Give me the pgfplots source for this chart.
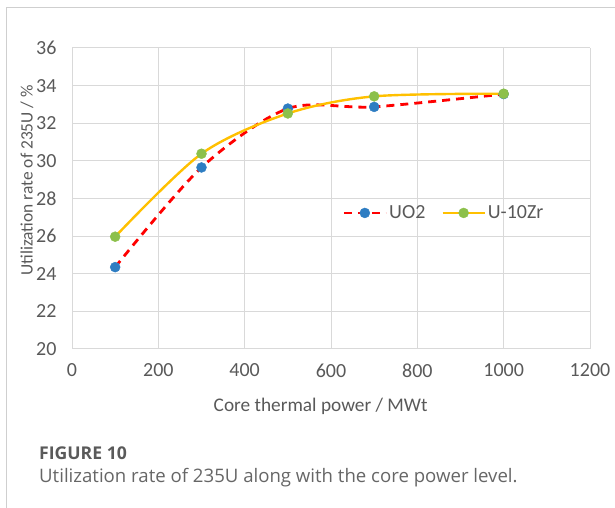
\documentclass[border=0pt]{standalone}
\usepackage{fontspec}
\setmainfont{Carlito}
\newfontfamily\capfont{Open Sans}
\usepackage{pgfplots}
\pgfplotsset{compat=1.18}

\definecolor{tickgray}{HTML}{595959}
\definecolor{gridgray}{HTML}{D9D9D9}
\definecolor{uoblue}{HTML}{2E7DC2}
\definecolor{zrgreen}{HTML}{8CC04B}
\definecolor{zryellow}{HTML}{FFC000}
\definecolor{framegray}{HTML}{CFCFCF}
\definecolor{capgray}{HTML}{5A5A5A}
\definecolor{captext}{HTML}{666666}

\begin{document}
\begin{tikzpicture}
\useasboundingbox (0,0) rectangle (615pt,508pt);
\draw[framegray, line width=1pt] (6pt,0pt) -- (6pt,500pt) -- (615pt,500pt);
\begin{axis}[
    at={(72pt,159pt)}, anchor=south west,
    scale only axis,
    width=518pt, height=301pt,
    xmin=0, xmax=1200,
    ymin=20, ymax=36,
    xtick={0,200,...,1200},
    ytick={20,22,...,36},
    grid=major,
    grid style={gridgray, line width=1pt},
    axis line style={draw=none},
    major tick length=0pt,
    /pgf/number format/1000 sep={},
    /pgf/number format/assume math mode=true,
    tick label style={font=\fontsize{20}{24}\selectfont, text=tickgray},
    yticklabel style={xshift=-12pt},
    xticklabel style={yshift=-11pt},
    xlabel={Core thermal power / MWt},
    ylabel={Utilization rate of 235U / \%},
    label style={text=tickgray},
    xlabel style={font=\fontsize{19.3}{23}\selectfont,
        at={(rel axis cs:0.48,0)}, anchor=center, yshift=-57pt},
    ylabel style={font=\fontsize{17.4}{21}\selectfont,
        at={(rel axis cs:0,0.56)}, anchor=center, yshift=45pt},
    legend style={at={(rel axis cs:0.718,0.452)}, anchor=center,
        draw=none, fill=none, font=\fontsize{20}{24}\selectfont, text=tickgray,
        /tikz/every even column/.append style={column sep=14pt}},
    legend columns=2,
    legend image code/.code={
        \draw[mark repeat=2, mark phase=2, #1]
            plot coordinates {(0pt,0pt) (21pt,0pt) (42pt,0pt)};},
]
% UO2
\addplot[red, line width=2.8pt, dash pattern=on 8pt off 6pt, smooth, tension=0.5,
    mark=*, mark size=5pt, mark options={solid, fill=uoblue, draw=uoblue, line width=0.4pt}]
    coordinates {(100,24.35) (300,29.65) (500,32.78) (700,32.87) (1000,33.55)};
\addlegendentry{UO2}
% U-10Zr
\addplot[zryellow, line width=2.4pt, smooth, tension=0.5,
    mark=*, mark size=5pt, mark options={solid, fill=zrgreen, draw=zrgreen, line width=0.4pt}]
    coordinates {(100,25.97) (300,30.38) (500,32.52) (700,33.43) (1000,33.57)};
\addlegendentry{U-10Zr}
\end{axis}
\node[anchor=base west, inner sep=0pt, text=capgray,
    font=\capfont\bfseries\fontsize{17.6}{21}\selectfont] at (39pt,48pt) {FIGURE 10};
\node[anchor=base west, inner sep=0pt, text=captext,
    font=\capfont\fontsize{18.6}{22}\selectfont] at (39pt,25pt)
    {Utilization rate of 235U along with the core power level.};
\end{tikzpicture}
\end{document}
